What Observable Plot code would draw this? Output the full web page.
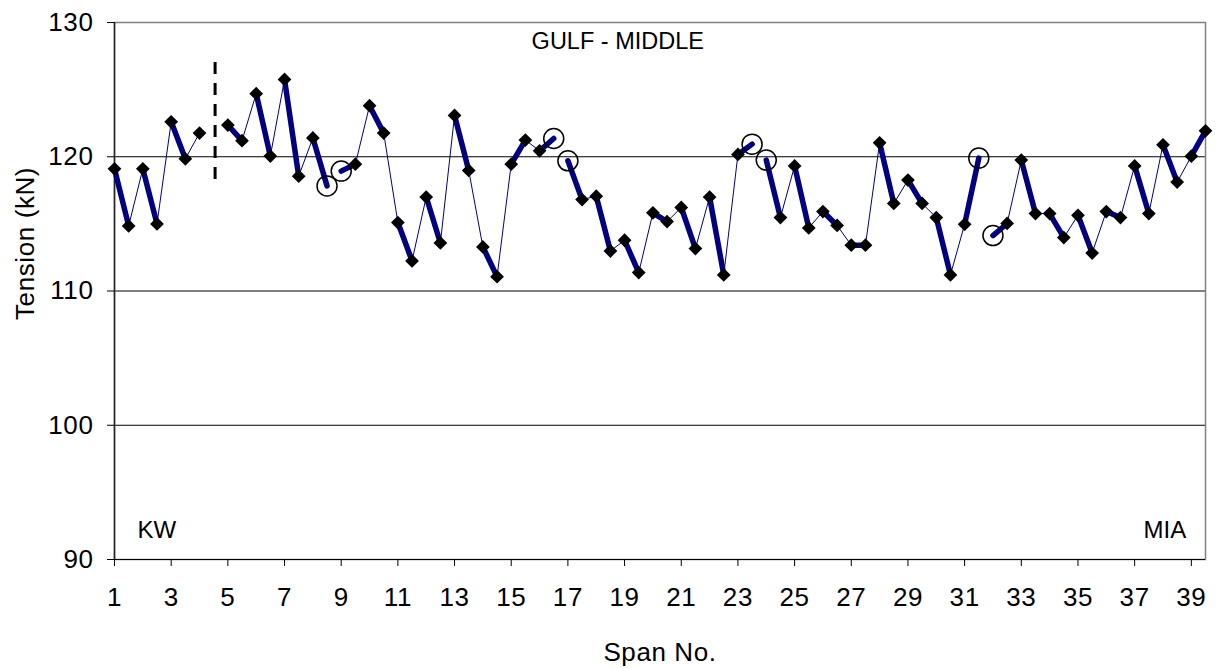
<!DOCTYPE html>
<html>
<head>
<meta charset="utf-8">
<script src="https://cdn.jsdelivr.net/npm/d3@7"></script>
<script src="https://cdn.jsdelivr.net/npm/@observablehq/plot@0.6"></script>
<style>
  html, body { margin: 0; padding: 0; background: #fff; }
  #chart svg { display: block; }
  #chart svg g[aria-label="x-axis tick label"] text,
  #chart svg g[aria-label="y-axis tick label"] text,
  #chart svg .axis-title text { letter-spacing: 0.6px; }
</style>
</head>
<body>
<div id="chart"></div>
<script>
// Span positions (each span has a reading at its start and at its middle)
const positions = [
  1, 1.5, 2, 2.5, 3, 3.5, 4, 4.5, 5, 5.5, 6, 6.5, 7, 7.5, 8, 8.5, 9, 9.5, 10, 10.5,
  11, 11.5, 12, 12.5, 13, 13.5, 14, 14.5, 15, 15.5, 16, 16.5, 17, 17.5, 18, 18.5, 19, 19.5, 20, 20.5,
  21, 21.5, 22, 22.5, 23, 23.5, 24, 24.5, 25, 25.5, 26, 26.5, 27, 27.5, 28, 28.5, 29, 29.5, 30, 30.5,
  31, 31.5, 32, 32.5, 33, 33.5, 34, 34.5, 35, 35.5, 36, 36.5, 37, 37.5, 38, 38.5, 39, 39.5
];
// Tension (kN) at each position
const tension = [
  119.1, 114.85, 119.1, 115.0, 122.6, 119.85, 121.76, null, 122.36, 121.2, 124.7, 120.05, 125.76, 118.55, 121.4, 117.83, 118.93, 119.45, 123.8, 121.76,
  115.1, 112.24, 117.0, 113.58, 123.08, 118.98, 113.28, 111.07, 119.45, 121.24, 120.44, 121.36, 119.7, 116.81, 117.06, 112.98, 113.78, 111.37, 115.82, 115.17,
  116.22, 113.16, 117.0, 111.2, 120.17, 120.94, 119.75, 115.47, 119.32, 114.7, 115.92, 114.88, 113.41, 113.41, 121.04, 116.52, 118.26, 116.52, 115.47, 111.2,
  114.97, 119.9, 114.13, 115.03, 119.75, 115.77, 115.77, 113.98, 115.64, 112.83, 115.92, 115.47, 119.32, 115.77, 120.89, 118.11, 120.04, 121.93
];
// Positions marked with open circles (no diamond marker)
const circled = [8.5, 9, 16.5, 17, 23.5, 24, 31.5, 32];

// Axis ticks
const xTicks = [1, 3, 5, 7, 9, 11, 13, 15, 17, 19, 21, 23, 25, 27, 29, 31, 33, 35, 37, 39];
const yTicks = [90, 100, 110, 120, 130];
const gridLines = [100, 110, 120];

// Dashed divider
const dividerX = [4.55];
const dividerY1 = 118.3;
const dividerY2 = 127.2;

// Text annotations
const titleNote = {t: "GULF - MIDDLE", x: 18.76, y: 128.6};
const leftNote = {t: "KW", x: 1.81, y: 92.2};
const rightNote = {t: "MIA", x: 38.82, y: 92.2};

const rows = positions.map((x, i) => ({
  x, y: tension[i], span: Math.floor(x), est: circled.includes(x)
}));
const thinRows = rows.map(d => ({...d, y: d.est ? null : d.y}));
const thickRows = rows.filter(d => d.y != null);
const diamondRows = rows.filter(d => d.y != null && !d.est);
const circleRows = rows.filter(d => d.est);

const FONT = "'Liberation Sans', Arial, sans-serif";

const chart = Plot.plot({
  width: 1217,
  height: 668,
  marginLeft: 114,
  marginRight: 12,
  marginTop: 22,
  marginBottom: 109,
  style: {fontFamily: FONT, fontSize: "26px", color: "#000", background: "#fff"},
  x: {domain: [1, 39.5]},
  y: {domain: [90, 130]},
  marks: [
    Plot.ruleY(gridLines, {stroke: "#000", strokeWidth: 1}),
    Plot.frame({stroke: "#808080", strokeWidth: 1.5}),
    Plot.ruleX([1], {stroke: "#222", strokeWidth: 1.5}),
    Plot.ruleY([90], {stroke: "#000", strokeWidth: 1.2}),
    Plot.axisX({ticks: xTicks, tickSize: 7, tickPadding: 21, label: null, fontSize: 26}),
    Plot.axisY({ticks: yTicks, tickSize: 7, tickPadding: 14, label: null, fontSize: 26}),
    Plot.text(["Span No."], {frameAnchor: "bottom", dy: 93, fontSize: 26, lineAnchor: "middle", className: "axis-title"}),
    Plot.text(["Tension (kN)"], {frameAnchor: "left", dx: -89, dy: 29, rotate: -90, fontSize: 26, lineAnchor: "middle", className: "axis-title"}),
    Plot.line(thinRows, {x: "x", y: "y", stroke: "#000080", strokeWidth: 1}),
    Plot.line(thickRows, {x: "x", y: "y", z: "span", stroke: "#000080", strokeWidth: 5.5, strokeLinecap: "round"}),
    Plot.dot(diamondRows, {x: "x", y: "y", symbol: "diamond2", r: 6.2, fill: "#000", stroke: "none"}),
    Plot.dot(circleRows, {x: "x", y: "y", r: 10, fill: "none", stroke: "#000", strokeWidth: 1.5}),
    Plot.ruleX(dividerX, {y1: dividerY1, y2: dividerY2, stroke: "#000", strokeWidth: 3, strokeDasharray: "12,9"}),
    Plot.text([titleNote], {x: "x", y: "y", text: "t", textAnchor: "middle", fontSize: 23.5, lineAnchor: "middle"}),
    Plot.text([leftNote], {x: "x", y: "y", text: "t", textAnchor: "start", fontSize: 24, lineAnchor: "middle"}),
    Plot.text([rightNote], {x: "x", y: "y", text: "t", textAnchor: "end", fontSize: 24, lineAnchor: "middle"})
  ]
});
document.getElementById("chart").appendChild(chart);
</script>
</body>
</html>
